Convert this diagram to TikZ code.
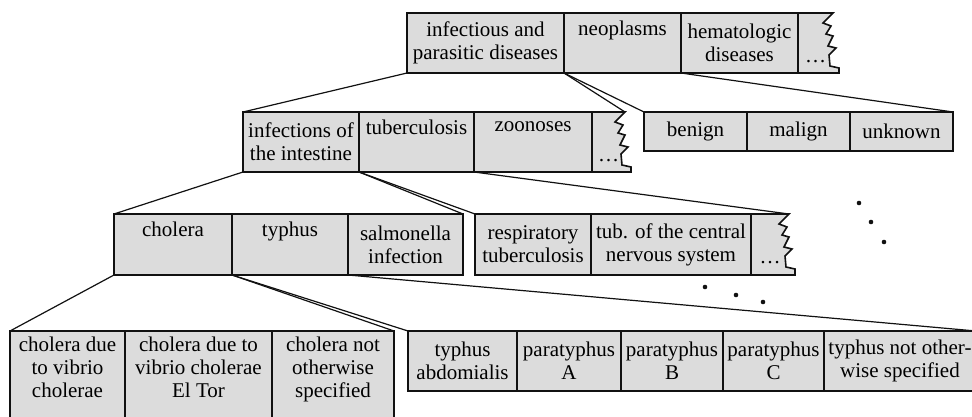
\documentclass[tikz,border=0pt]{standalone}
\usepackage{fontspec}
\setmainfont{Liberation Serif}
\usepackage{tikz}
\usetikzlibrary{positioning,backgrounds}
\definecolor{ink}{HTML}{111111}
\definecolor{shade}{HTML}{DCDCDC}
\tikzset{cell/.style={draw=ink,fill=shade,line width=1.2pt,inner sep=0pt,outer sep=0pt,align=center,minimum height=60pt,font=\fontsize{21}{23}\selectfont},
  tail/.style={cell,draw=none,fill=none},
  link/.style={draw=ink,line width=1.2pt}}
% torn right end of a row, drawn behind the dots
\newcommand{\tornend}[1]{\begin{pgfonlayer}{background}\filldraw[link,line width=1.6pt,line join=miter,fill=shade] (#1.north west) -- (#1.north east) -- ++(-10,10) -- ++(8,3) -- ++(-5,8) -- ++(7,2) -- ++(-5,10) -- ++(8,2) -- ++(-7,7) -- ++(1,11) -- ++(9,2) |- (#1.south west) -- cycle;\end{pgfonlayer}}

\begin{document}
\begin{tikzpicture}[x=1pt,y=-1pt]
\useasboundingbox (0,0) rectangle (972,417);
\clip (0,0) rectangle (972,417);
% chapters
\node[cell,anchor=north west,minimum width=157pt] (infect) at (407,13) {infectious and\\parasitic diseases};
\node[cell,minimum width=117pt,right=0pt of infect] (neo) {neoplasms\\\strut};
\node[cell,minimum width=117pt,right=0pt of neo] (hema) {hematologic\\diseases};
\node[tail,minimum width=35pt,right=0pt of hema] (more1) {\strut\\\dots}; \tornend{more1}
% neoplasms
\node[cell,anchor=north west,minimum width=103pt,minimum height=39pt] (benign) at (644,112) {benign};
\node[cell,minimum width=103pt,minimum height=39pt,right=0pt of benign] (malign) {malign};
\node[cell,minimum width=103pt,minimum height=39pt,right=0pt of malign] (unknown) {unknown};
% infectious diseases
\node[cell,anchor=north west,minimum width=116pt] (intest) at (243,112) {infections of\\the intestine};
\node[cell,minimum width=115pt,right=0pt of intest] (tuber) {tuberculosis\\\strut};
\node[cell,minimum width=118pt,right=0pt of tuber] (zoon) {zoonoses\\\strut};
\node[tail,minimum width=33pt,right=0pt of zoon] (more2) {\strut\\\dots}; \tornend{more2}
% intestine
\node[cell,anchor=north west,minimum width=118pt,minimum height=61pt] (cholera) at (114,214) {cholera\\\strut};
\node[cell,minimum width=116pt,minimum height=61pt,right=0pt of cholera] (typhus) {typhus\\\strut};
\node[cell,minimum width=115pt,minimum height=61pt,right=0pt of typhus] (salmon) {salmonella\\infection};
% tuberculosis
\node[cell,anchor=north west,minimum width=116pt,minimum height=61pt] (resp) at (475,214) {respiratory\\tuberculosis};
\node[cell,minimum width=160pt,minimum height=61pt,right=0pt of resp] (cns) {tub. of the central\\nervous system};
\node[tail,minimum width=38pt,minimum height=61pt,right=0pt of cns] (more3) {\strut\\\dots}; \tornend{more3}
% cholera
\node[cell,anchor=north west,minimum width=115pt,minimum height=103pt] (chol1) at (10,331) {cholera due\\to vibrio\\cholerae\\\strut};
\node[cell,minimum width=147pt,minimum height=103pt,right=0pt of chol1] (chol2) {cholera due to\\vibrio cholerae\\El Tor\\\strut};
\node[cell,minimum width=122pt,minimum height=103pt,right=0pt of chol2] (chol3) {cholera not\\otherwise\\specified\\\strut};
% typhus
\node[cell,anchor=north west,minimum width=109pt] (abdom) at (408,331) {typhus\\abdomialis};
\node[cell,minimum width=104pt,right=0pt of abdom] (paraA) {paratyphus\\A};
\node[cell,minimum width=102pt,right=0pt of paraA] (paraB) {paratyphus\\B};
\node[cell,minimum width=101pt,right=0pt of paraB] (paraC) {paratyphus\\C};
\node[cell,minimum width=152pt,right=0pt of paraC] (typnos) {typhus not other-\\wise specified};
% fans
\draw[link] (infect.south west) -- (intest.north west);
\draw[link] (infect.south east) -- (more2.north east);
\draw[link] (neo.south west) -- (benign.north west);
\draw[link] (neo.south east) -- (unknown.north east);
\draw[link] (intest.south west) -- (cholera.north west);
\draw[link] (intest.south east) -- (salmon.north east);
\draw[link] (tuber.south west) -- (resp.north west);
\draw[link] (tuber.south east) -- (more3.north east);
\draw[link] (cholera.south west) -- (chol1.north west);
\draw[link] (cholera.south east) -- (chol3.north east);
\draw[link] (typhus.south west) -- (abdom.north west);
\draw[link] (typhus.south east) -- (typnos.north east);
\foreach \p in {(859,203),(871,222),(884,242),(705,287),(736,295),(763,302)} \fill[ink] \p circle (2.3pt);
\end{tikzpicture}
\end{document}
